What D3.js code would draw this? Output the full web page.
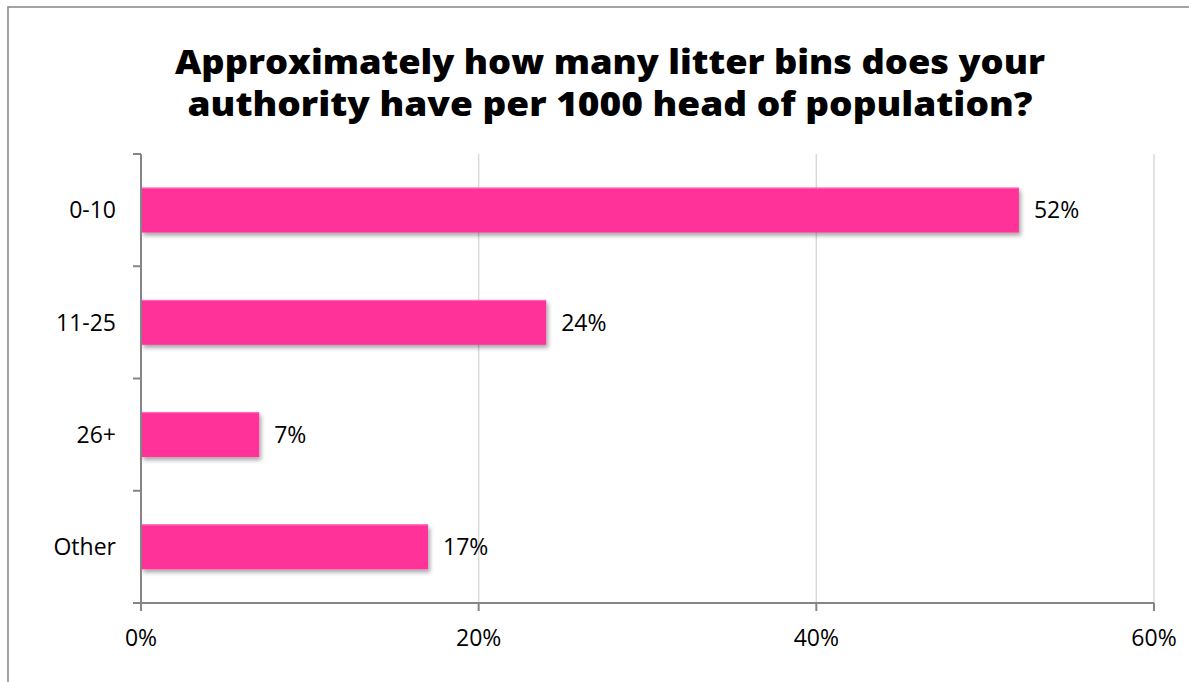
<!DOCTYPE html>
<html>
<head>
<meta charset="utf-8">
<script src="https://cdn.jsdelivr.net/npm/d3@7"></script>
<style>
  html, body { margin: 0; padding: 0; background: #fff; }
  svg { display: block; }
</style>
</head>
<body>
<svg id="chart" width="1189" height="682"></svg>
<script>
// Survey answers: share of authorities by bins per 1000 population
const categories = ["0-10", "11-25", "26+", "Other"];
const shares = [52, 24, 7, 17];
const xTicks = [0, 20, 40, 60];
const titleLines = [
  "Approximately how many litter bins does your",
  "authority have per 1000 head of population?"
];

const svg = d3.select("#chart");
const font = "'Open Sans', 'Noto Sans', sans-serif";

// Outer frame
svg.append("rect")
  .attr("x", 8).attr("y", 7)
  .attr("width", 1200).attr("height", 700)
  .attr("fill", "none")
  .attr("stroke", "#8c8c8c")
  .attr("stroke-width", 1.6);

// Drop shadow for bars
const defs = svg.append("defs");
const f = defs.append("filter").attr("id", "shadow")
  .attr("x", "-5%").attr("y", "-20%").attr("width", "115%").attr("height", "160%");
f.append("feDropShadow")
  .attr("dx", 2).attr("dy", 3).attr("stdDeviation", 2)
  .attr("flood-color", "#000").attr("flood-opacity", 0.35);

const plotLeft = 141, plotRight = 1154, plotTop = 154, plotBottom = 603;

const x = d3.scaleLinear().domain([0, 60]).range([plotLeft, plotRight]);
const y = d3.scaleBand().domain(categories).range([plotTop, plotBottom])
  .paddingInner(0.6).paddingOuter(0.3);
const step = y.step();

// Title, two centred lines
titleLines.forEach((t, i) => {
  svg.append("text")
    .attr("x", 610)
    .attr("y", 74 + i * 42)
    .attr("font-family", font)
    .attr("font-weight", 800)
    .attr("font-size", 34)
    .attr("text-anchor", "middle")
    .attr("fill", "#000")
    .attr("textLength", i === 0 ? 870 : 845)
    .attr("lengthAdjust", "spacingAndGlyphs")
    .text(t);
});

// Vertical gridlines
svg.append("g").selectAll("line")
  .data(xTicks.filter(d => d > 0))
  .join("line")
  .attr("x1", d => x(d)).attr("x2", d => x(d))
  .attr("y1", plotTop).attr("y2", plotBottom)
  .attr("stroke", "#d9d9d9").attr("stroke-width", 1.5);

// Bars
const g = svg.append("g");
g.selectAll("rect")
  .data(categories)
  .join("rect")
  .attr("x", x(0))
  .attr("y", d => y(d))
  .attr("width", (d, i) => x(shares[i]) - x(0))
  .attr("height", y.bandwidth())
  .attr("fill", "#ff3399")
  .attr("filter", "url(#shadow)");

// Thin lighter highlight along the bar tops
g.selectAll("line.hl")
  .data(categories)
  .join("line")
  .attr("class", "hl")
  .attr("x1", x(0)).attr("x2", (d, i) => x(shares[i]))
  .attr("y1", d => y(d) + 0.5).attr("y2", d => y(d) + 0.5)
  .attr("stroke", "#ff6fb5").attr("stroke-width", 1);

// Value labels
g.selectAll("text.val")
  .data(categories)
  .join("text")
  .attr("class", "val")
  .attr("x", (d, i) => x(shares[i]) + 15)
  .attr("y", d => y(d) + y.bandwidth() / 2)
  .attr("dy", "0.36em")
  .attr("font-family", font)
  .attr("font-size", 23)
  .attr("fill", "#000")
  .text((d, i) => shares[i] + "%");

// Axes
const axisColor = "#858585";
// y axis line and category ticks at band boundaries
svg.append("line")
  .attr("x1", plotLeft).attr("x2", plotLeft)
  .attr("y1", plotTop).attr("y2", plotBottom)
  .attr("stroke", axisColor).attr("stroke-width", 2);
const bounds = categories.map(d => y(d) - y.paddingInner() * step / 2);
bounds.push(plotBottom);
bounds[0] = plotTop;
svg.append("g").selectAll("line")
  .data(bounds)
  .join("line")
  .attr("x1", plotLeft - 8).attr("x2", plotLeft)
  .attr("y1", d => d).attr("y2", d => d)
  .attr("stroke", axisColor).attr("stroke-width", 2);

// Category labels
svg.append("g").selectAll("text")
  .data(categories)
  .join("text")
  .attr("x", 116)
  .attr("y", d => y(d) + y.bandwidth() / 2)
  .attr("dy", "0.36em")
  .attr("text-anchor", "end")
  .attr("font-family", font)
  .attr("font-size", 23)
  .attr("fill", "#000")
  .text(d => d);

// x axis line and ticks
svg.append("line")
  .attr("x1", plotLeft - 8).attr("x2", plotRight)
  .attr("y1", plotBottom).attr("y2", plotBottom)
  .attr("stroke", axisColor).attr("stroke-width", 2);
svg.append("g").selectAll("line")
  .data(xTicks)
  .join("line")
  .attr("x1", d => x(d)).attr("x2", d => x(d))
  .attr("y1", plotBottom).attr("y2", plotBottom + 8)
  .attr("stroke", axisColor).attr("stroke-width", 2);
svg.append("g").selectAll("text")
  .data(xTicks)
  .join("text")
  .attr("x", d => x(d))
  .attr("y", 646)
  .attr("text-anchor", "middle")
  .attr("font-family", font)
  .attr("font-size", 23)
  .attr("fill", "#000")
  .text(d => d + "%");
</script>
</body>
</html>
